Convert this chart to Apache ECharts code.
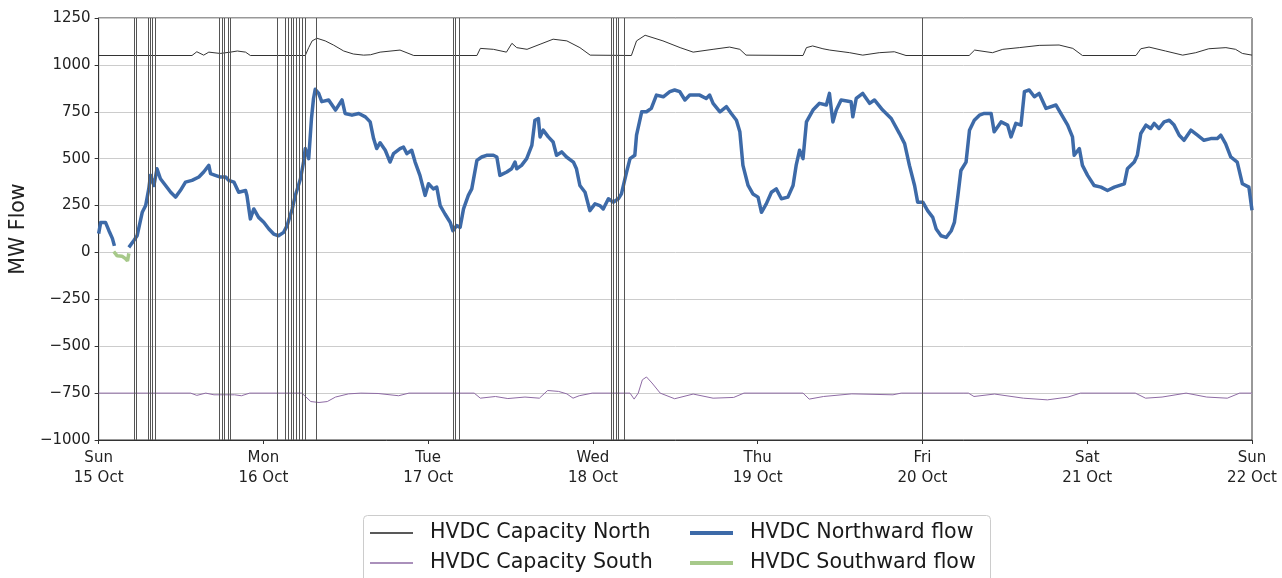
<!DOCTYPE html>
<html>
<head>
<meta charset="utf-8">
<title>HVDC flow</title>
<script src="https://cdn.jsdelivr.net/npm/echarts@6/dist/echarts.min.js"></script>
<style>
  html, body { margin: 0; padding: 0; background: #fff; }
  #chart { width: 1282px; height: 578px; }
</style>
</head>
<body>
<div id="chart"></div>
<script>
// Hours since Sun 15 Oct 00:00, MW
const dayNames = ['Sun', 'Mon', 'Tue', 'Wed', 'Thu', 'Fri', 'Sat', 'Sun'];
const dayDates = ['15 Oct', '16 Oct', '17 Oct', '18 Oct', '19 Oct', '20 Oct', '21 Oct', '22 Oct'];

const capacityNorth = [
  [0,1050],[13.6,1050],[14.3,1070],[15.3,1052],[16.05,1068],[17.7,1061],[19.2,1068],[20.2,1074],
  [21.4,1068],[22.1,1050],[30.1,1050],[30.6,1092],[31.1,1128],[31.8,1142],[33.0,1128],[34.2,1106],
  [35.7,1074],[37.1,1058],[38.6,1052],[39.6,1054],[41.0,1068],[43.9,1079],[45.9,1050],[55.1,1050],
  [55.6,1088],[57.5,1083],[59.4,1068],[60.2,1115],[60.9,1092],[62.4,1083],[64.3,1110],[66.2,1137],
  [68.2,1128],[70.1,1092],[71.6,1052],[77.6,1050],[78.35,1128],[79.6,1158],[82.2,1128],[84.7,1092],
  [86.6,1068],[89.5,1083],[91.9,1095],[93.4,1083],[94.3,1052],[102.6,1050],[103.1,1092],[104.0,1101],
  [105.5,1086],[106.5,1079],[109.4,1065],[111.3,1052],[113.7,1065],[115.9,1070],[117.6,1050],
  [126.8,1050],[127.6,1079],[130.2,1065],[131.7,1083],[134.1,1092],[137.0,1104],[139.9,1106],
  [141.9,1088],[143.3,1050],[151.1,1050],[151.8,1086],[153.0,1095],[155.4,1074],[157.9,1052],
  [159.8,1065],[161.7,1086],[164.2,1092],[165.6,1083],[166.6,1061],[168,1052]
];

const capacitySouth = [
  [0,-750],[13.4,-750],[14.3,-762],[15.6,-750],[16.8,-759],[19.8,-759],[20.8,-764],[22.0,-750],
  [29.6,-750],[30.9,-795],[32.1,-800],[33.3,-795],[34.5,-771],[36.4,-754],[38.2,-750],[40.7,-752],
  [43.7,-764],[45.2,-750],[54.7,-750],[55.6,-777],[57.8,-768],[59.6,-779],[62.1,-771],[64.2,-777],
  [65.4,-736],[67.0,-741],[68.2,-754],[69.1,-777],[70.0,-764],[71.9,-750],[77.4,-750],[78.0,-782],
  [78.6,-750],[79.2,-679],[79.8,-664],[80.6,-696],[81.8,-750],[83.9,-780],[86.6,-755],[89.5,-777],
  [92.5,-773],[94.0,-750],[102.6,-750],[103.5,-782],[105.6,-768],[109.7,-754],[115.7,-759],
  [116.9,-750],[126.7,-750],[127.5,-768],[130.5,-755],[134.7,-777],[138.2,-786],[141.2,-771],
  [143.0,-750],[151.0,-750],[152.5,-777],[154.9,-771],[158.4,-750],[161.4,-771],[164.4,-777],
  [166.2,-750],[168,-750]
];

const northwardFlow = [
  [0,100],[0.3,160],[1.0,160],[1.5,116],[2.0,75],[2.3,35],[3.3,null],
  [4.4,27],[5.1,62],[5.6,89],[6.35,214],[6.85,250],[7.3,339],[7.55,411],[8.05,357],[8.5,446],
  [9.0,393],[9.75,357],[10.5,321],[11.2,295],[11.9,330],[12.65,375],[13.6,384],[14.6,402],
  [15.3,429],[16.05,464],[16.3,420],[17.0,411],[17.75,402],[18.5,402],[18.95,384],[19.7,375],
  [20.4,321],[21.4,330],[21.6,304],[22.1,179],[22.6,232],[23.3,187],[24.05,161],[24.8,125],
  [25.5,98],[26.2,89],[26.95,107],[27.45,143],[28.2,232],[28.65,304],[29.4,393],[29.85,482],
  [30.1,554],[30.6,500],[31.0,714],[31.3,821],[31.55,870],[32.05,848],[32.5,804],[33.5,813],
  [34.5,759],[35.45,813],[35.9,741],[36.9,732],[37.9,741],[38.85,723],[39.55,696],[40.05,607],
  [40.5,554],[41.0,585],[41.75,545],[42.45,482],[42.95,527],[43.9,554],[44.4,562],[44.9,527],
  [45.6,545],[46.1,482],[46.8,411],[47.55,304],[48.05,366],[48.75,339],[49.25,348],[49.75,250],
  [50.45,205],[51.2,161],[51.6,116],[52.15,143],[52.65,134],[53.15,232],[53.85,304],[54.35,339],
  [55.1,491],[55.8,509],[56.5,518],[57.5,518],[58.0,509],[58.45,411],[59.45,429],[60.15,446],
  [60.65,482],[60.9,446],[61.6,464],[62.35,500],[63.1,571],[63.55,705],[64.05,714],[64.3,616],
  [64.75,652],[65.5,616],[66.2,589],[66.7,518],[67.45,536],[68.15,509],[69.15,482],[69.6,446],
  [70.1,357],[70.85,321],[71.55,223],[72.3,259],[73.0,250],[73.5,232],[74.25,286],[74.95,268],
  [75.7,286],[76.15,312],[76.9,429],[77.4,500],[78.1,518],[78.35,625],[79.1,750],[79.8,750],
  [80.5,768],[81.25,839],[82.25,830],[83.2,857],[83.9,866],[84.65,857],[85.4,813],[86.1,839],
  [87.55,839],[88.5,821],[89.0,839],[89.5,795],[90.5,750],[91.45,777],[92.15,741],[92.9,705],
  [93.4,643],[93.85,464],[94.6,357],[95.3,312],[96.05,295],[96.55,214],[97.25,259],[98.0,321],
  [98.7,339],[99.45,286],[100.4,295],[101.15,357],[101.6,464],[102.1,545],[102.6,500],[103.1,696],
  [104.05,759],[105.0,795],[106.0,786],[106.45,848],[106.95,696],[107.45,759],[108.15,813],
  [109.6,804],[109.85,723],[110.35,821],[111.3,848],[112.3,795],[113.0,813],[114.2,759],
  [115.45,714],[116.65,634],[117.4,580],[118.1,464],[118.85,357],[119.3,268],[120.05,268],
  [120.75,223],[121.5,187],[122.0,125],[122.7,89],[123.45,80],[124.2,116],[124.65,160],
  [125.15,300],[125.6,437],[126.35,482],[126.85,652],[127.55,705],[128.3,732],[129.0,741],
  [130.0,741],[130.45,643],[131.45,696],[132.4,679],[132.9,616],[133.6,688],[134.35,679],
  [134.85,857],[135.55,866],[136.3,830],[137.0,848],[138.0,768],[139.45,786],[140.15,741],
  [141.15,679],[141.85,616],[142.1,518],[142.85,554],[143.3,464],[144.05,411],[145.0,357],
  [146.0,348],[146.95,330],[147.95,348],[149.4,366],[149.85,446],[150.85,482],[151.3,518],
  [151.8,634],[152.55,679],[153.25,661],[153.75,688],[154.45,661],[155.2,696],[155.95,705],
  [156.65,679],[157.4,625],[158.1,598],[159.1,652],[160.05,625],[161.0,598],[162.0,607],
  [162.95,607],[163.45,625],[164.15,580],[164.9,509],[165.85,482],[166.6,366],[167.55,348],[168,225]
];

const southwardFlow = [
  [2.2,5],[2.7,-18],[3.4,-20],[3.9,-33],[4.2,-45],[4.4,-5]
];

// Event markers (hours)
const eventHours = [
  5.19, 5.53, 7.23, 7.52, 7.85, 8.19,
  17.6, 17.96, 18.33, 18.84, 19.17,
  26.0, 27.24, 27.64, 28.03, 28.41, 28.84, 29.28, 29.67, 30.15, 31.7,
  51.65, 52.0, 52.5,
  74.6, 74.95, 75.4, 75.75, 76.6,
  120.0
];

const FONT = '"DejaVu Sans", sans-serif';
const TEXT = '#222';
const C_NORTH_CAP = '#333333';
const C_SOUTH_CAP = '#8e6ba4';
const C_NORTHWARD = '#3d6aa8';
const C_SOUTHWARD = '#a7c98a';

const chart = echarts.init(document.getElementById('chart'), null, { renderer: 'canvas' });

function legendItem(name, left, top, color, h) {
  return {
    data: [{ name: name, icon: 'rect', itemStyle: { color: color, borderWidth: 0 } }],
    left: left, top: top, padding: 0,
    itemWidth: 43, itemHeight: h,
    selectedMode: false,
    textStyle: { fontFamily: FONT, fontSize: 20.6, color: '#1a1a1a', padding: [0, 0, 0, 12], lineHeight: 24 },
    z: 10
  };
}

chart.setOption({
  animation: false,
  backgroundColor: '#fff',
  textStyle: { fontFamily: FONT },
  grid: { left: 98, right: 30, top: 18, bottom: 138, show: true, borderColor: '#333', borderWidth: 1, backgroundColor: 'transparent' },
  graphic: [{
    type: 'rect', z: 5,
    shape: { x: 363.5, y: 515.5, width: 627, height: 80, r: 4 },
    style: { fill: '#fff', stroke: '#cccccc', lineWidth: 1 }
  }],
  legend: [
    legendItem('HVDC Capacity North', 370, 521, '#222', 1.5),
    legendItem('HVDC Capacity South', 370, 551, C_SOUTH_CAP, 1.5),
    legendItem('HVDC Northward flow', 690, 521, C_NORTHWARD, 4),
    legendItem('HVDC Southward flow', 690, 551, C_SOUTHWARD, 4)
  ],
  xAxis: {
    type: 'value', min: 0, max: 168, interval: 24,
    axisLine: { show: true, onZero: false, lineStyle: { color: '#333', width: 1 } },
    axisTick: { show: true, inside: false, length: 4, lineStyle: { color: '#333' } },
    splitLine: { show: false },
    axisLabel: {
      show: true, margin: 8, color: TEXT, fontFamily: FONT, fontSize: 15, lineHeight: 20,
      showMaxLabel: true, showMinLabel: true,
      formatter: function (v) {
        const i = Math.round(v / 24);
        return dayNames[i] + '\n' + dayDates[i];
      }
    }
  },
  yAxis: {
    type: 'value', min: -1000, max: 1250, interval: 250,
    name: 'MW Flow', nameLocation: 'middle', nameRotate: 90, nameGap: 63,
    nameTextStyle: { fontFamily: FONT, fontSize: 20.5, color: TEXT },
    axisLine: { show: true, onZero: false, lineStyle: { color: '#333', width: 1 } },
    axisTick: { show: true, inside: false, length: 4, lineStyle: { color: '#333' } },
    splitLine: { show: true, lineStyle: { color: '#cccccc', width: 1 } },
    axisLabel: {
      margin: 8, color: TEXT, fontFamily: FONT, fontSize: 15,
      formatter: function (v) { return String(v).replace('-', '\u2212'); }
    }
  },
  series: [
    {
      name: 'HVDC Capacity North', type: 'line', data: capacityNorth,
      showSymbol: false, symbol: 'none', color: C_NORTH_CAP,
      lineStyle: { color: C_NORTH_CAP, width: 1 }, z: 2,
      markLine: {
        silent: true, symbol: ['none', 'none'], animation: false,
        label: { show: false },
        lineStyle: { color: '#555', width: 1, type: 'solid' },
        emphasis: { disabled: true },
        data: eventHours.map(function (h) { return { xAxis: h }; })
      }
    },
    {
      name: 'HVDC Capacity South', type: 'line', data: capacitySouth,
      showSymbol: false, symbol: 'none', color: C_SOUTH_CAP,
      lineStyle: { color: C_SOUTH_CAP, width: 1 }, z: 2
    },
    {
      name: 'HVDC Northward flow', type: 'line', data: northwardFlow,
      showSymbol: false, symbol: 'none', connectNulls: false, color: C_NORTHWARD,
      lineStyle: { color: C_NORTHWARD, width: 3.5, join: 'round' }, z: 3
    },
    {
      name: 'HVDC Southward flow', type: 'line', data: southwardFlow,
      showSymbol: false, symbol: 'none', color: C_SOUTHWARD,
      lineStyle: { color: C_SOUTHWARD, width: 3.5 }, z: 3
    }
  ]
});
</script>
</body>
</html>
